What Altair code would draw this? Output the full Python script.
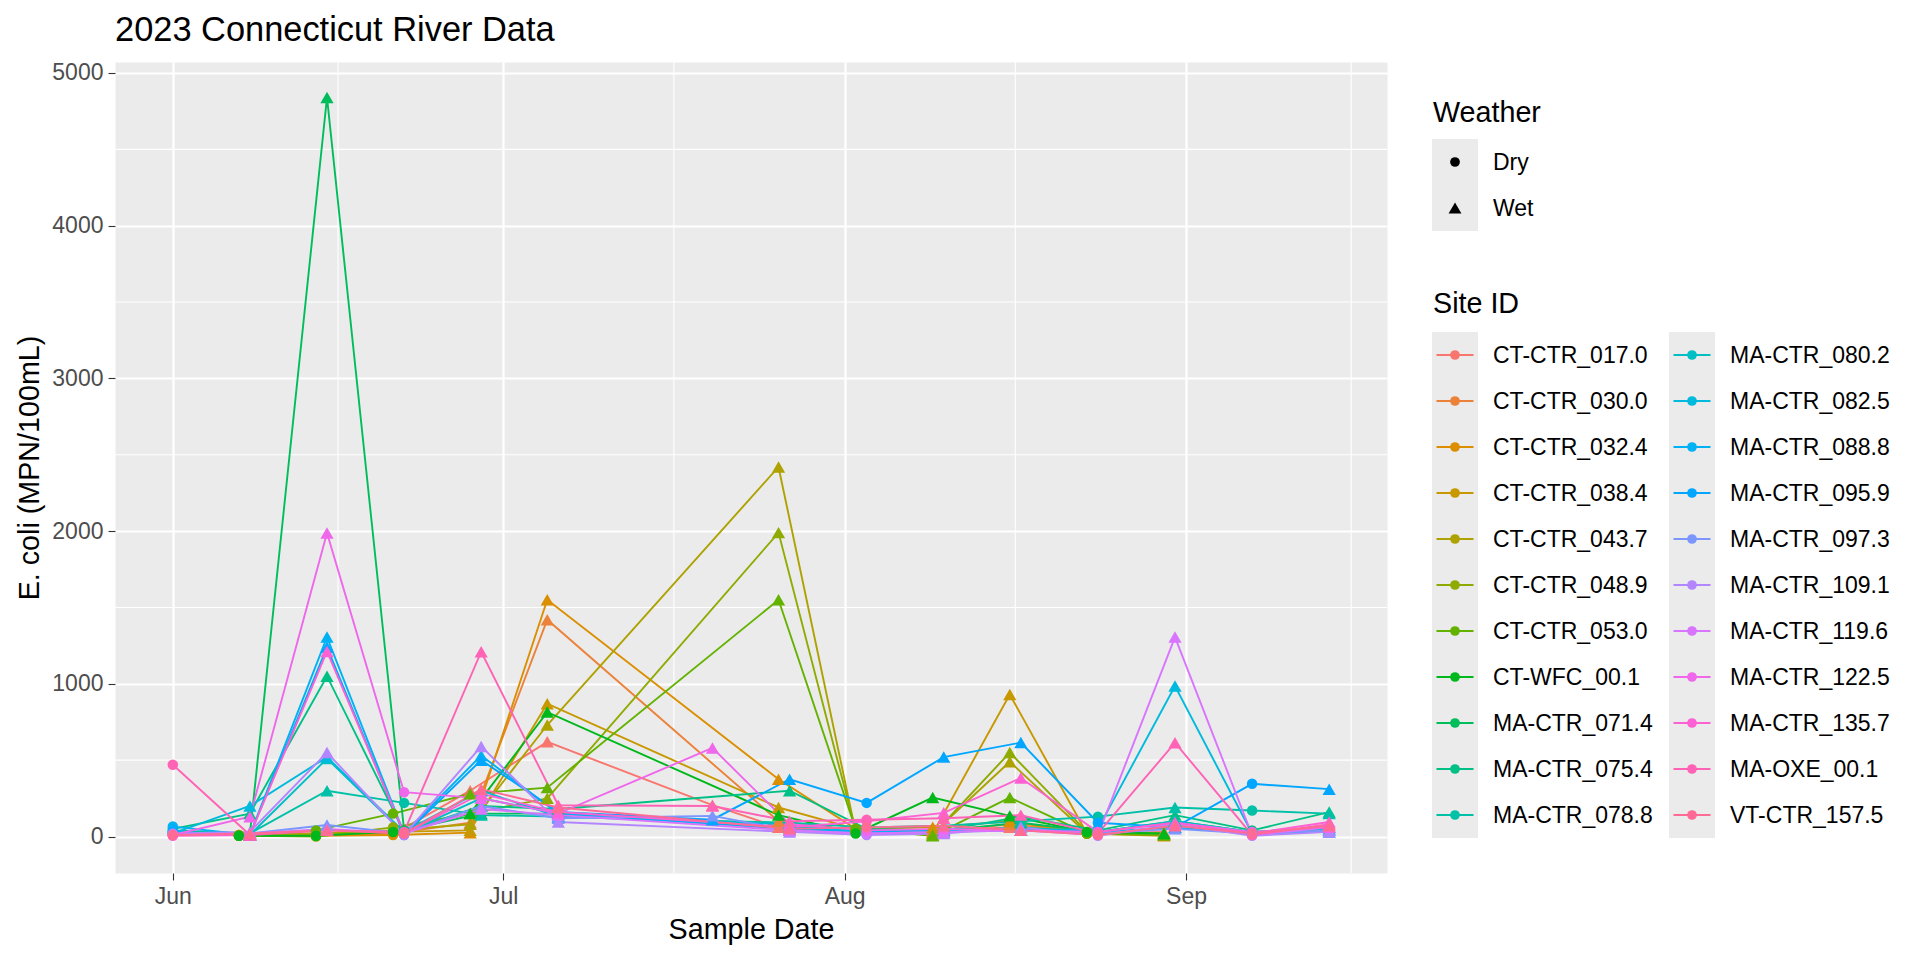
import math
import pandas as pd
import altair as alt

FONT = "Liberation Sans, Arial, sans-serif"

# ---------------- data ----------------
SITE_IDS = ["CT-CTR_017.0", "CT-CTR_030.0", "CT-CTR_032.4", "CT-CTR_038.4", "CT-CTR_043.7",
            "CT-CTR_048.9", "CT-CTR_053.0", "CT-WFC_00.1", "MA-CTR_071.4", "MA-CTR_075.4",
            "MA-CTR_078.8", "MA-CTR_080.2", "MA-CTR_082.5", "MA-CTR_088.8", "MA-CTR_095.9",
            "MA-CTR_097.3", "MA-CTR_109.1", "MA-CTR_119.6", "MA-CTR_122.5", "MA-CTR_135.7",
            "MA-OXE_00.1", "VT-CTR_157.5"]

CT_DATES = ["2023-06-07", "2023-06-14", "2023-06-21", "2023-06-28", "2023-07-05", "2023-07-20",
            "2023-07-26", "2023-08-02", "2023-08-09", "2023-08-16", "2023-08-23", "2023-08-30"]
CT_WEATHER = ["Dry", "Dry", "Dry", "Wet", "Wet", "Wet", "Wet", "Dry", "Wet", "Wet", "Dry", "Wet"]

MA_DATES = ["2023-06-01", "2023-06-08", "2023-06-15", "2023-06-22", "2023-06-29", "2023-07-06",
            "2023-07-20", "2023-07-27", "2023-08-03", "2023-08-10", "2023-08-17", "2023-08-24",
            "2023-08-31", "2023-09-07", "2023-09-14"]
MA_WEATHER = ["Dry", "Wet", "Wet", "Dry", "Wet", "Wet", "Wet", "Wet", "Dry", "Wet", "Wet", "Dry",
              "Wet", "Dry", "Wet"]

# E. coli (MPN/100mL) per site, aligned with the date lists above (None = not sampled)
CT_CTR_017_0 = [10, 20, 15, 300, 620, 205, 60, 30, 40, 60, 20, 30]
CT_CTR_030_0 = [5, 10, 20, 90, 1420, None, 100, 40, 30, 80, 30, 10]
CT_CTR_032_4 = [5, 5, 10, 25, 1550, None, 375, 50, 60, 100, 20, 5]
CT_CTR_038_4 = [10, 10, 30, 40, 870, None, 190, 50, 20, 930, 20, 20]
CT_CTR_043_7 = [10, 20, 40, 80, 730, None, 2420, 30, 20, 490, 20, 15]
CT_CTR_048_9 = [5, 0, 60, 150, 250, None, 1990, 40, 10, 550, 30, 20]
CT_CTR_053_0 = [5, 40, 150, 280, 320, None, 1550, 50, 5, 255, 20, 10]
CT_WFC_00_1 = [5, 5, 30, 150, 815, None, 140, 20, 255, 135, 30, 20]

MA_CTR_071_4 = [20, 15, 4840, 40, 150, 150, None, 60, 30, 40, 90, 30, 100, 30, 60]
MA_CTR_075_4 = [50, 150, 1050, 30, 200, 180, None, 300, 50, 40, 130, 40, 140, 40, 160]
MA_CTR_078_8 = [40, 20, 300, 220, 140, 130, None, 90, 60, 70, 100, 130, 190, 170, 150]
MA_CTR_080_2 = [30, 10, 510, 20, 250, 150, None, 60, 40, 30, 60, 30, 100, 30, 50]
MA_CTR_082_5 = [20, 200, 520, 30, 300, 130, None, 80, 20, 50, 40, 50, 985, 20, 40]
MA_CTR_088_8 = [65, 10, 1306, 20, 530, 150, None, 50, 30, 40, 40, 30, 60, 20, 30]
MA_CTR_095_9 = [30, 10, 1240, 10, 500, 160, 110, 375, 220, 520, 615, 90, 60, 345, 310]
MA_CTR_097_3 = [10, 20, 75, 20, 200, 120, 135, 40, 20, 30, 40, 20, 50, 20, 40]
MA_CTR_109_1 = [20, 30, 550, 10, 590, 95, None, 30, 10, 20, 60, 5, 80, 5, 30]
MA_CTR_119_6 = [10, 20, 50, 20, 180, 140, None, 40, 20, 30, 40, 10, 1306, 10, 60]
MA_CTR_122_5 = [10, 130, 1987, 290, 250, 150, 580, 80, 40, 50, 40, 30, 90, 30, 60]
MA_CTR_135_7 = [5, 10, 1212, 20, 280, 160, None, 60, 100, 155, 383, 30, 90, 20, 95]
MA_OXE_00_1 = [470, 10, 40, 30, 1210, 205, 200, 100, 110, 120, 140, 20, 614, 10, 80]
VT_CTR_157_5 = [10, 20, 40, 20, 310, 190, None, 50, 60, 70, 40, 10, 70, 20, 70]

SERIES = [CT_CTR_017_0, CT_CTR_030_0, CT_CTR_032_4, CT_CTR_038_4, CT_CTR_043_7, CT_CTR_048_9,
          CT_CTR_053_0, CT_WFC_00_1, MA_CTR_071_4, MA_CTR_075_4, MA_CTR_078_8, MA_CTR_080_2,
          MA_CTR_082_5, MA_CTR_088_8, MA_CTR_095_9, MA_CTR_097_3, MA_CTR_109_1, MA_CTR_119_6,
          MA_CTR_122_5, MA_CTR_135_7, MA_OXE_00_1, VT_CTR_157_5]

Y_TICKS = [0, 1000, 2000, 3000, 4000, 5000]
Y_MINOR = [500, 1500, 2500, 3500, 4500]
X_MINOR = ["2023-06-16T00:00:00Z", "2023-07-16T12:00:00Z", "2023-08-16T12:00:00Z",
           "2023-09-16T00:00:00Z"]
WEATHER_LABELS = ["Dry", "Wet"]

rows = []
for site, vals in zip(SITE_IDS, SERIES):
    if site.startswith("CT"):
        dates, weather = CT_DATES, CT_WEATHER
    else:
        dates, weather = MA_DATES, MA_WEATHER
    for d, w, v in zip(dates, weather, vals):
        if v is not None:
            rows.append({"site": site, "date": d, "weather": w, "ecoli": v})
df = pd.DataFrame(rows)


# ---------------- ggplot hue palette ----------------
def hcl_hex(h, c=100.0, l=65.0):
    hr = math.radians(h)
    U, V = c * math.cos(hr), c * math.sin(hr)
    Y = 100.0 * ((l + 16.0) / 116.0) ** 3
    un, vn = 0.1978398, 0.4683363
    u = U / (13.0 * l) + un
    v = V / (13.0 * l) + vn
    X = 9.0 * Y * u / (4.0 * v)
    Z = -X / 3.0 - 5.0 * Y + 3.0 * Y / v
    X, Y, Z = X / 100.0, Y / 100.0, Z / 100.0
    r = 3.240479 * X - 1.537150 * Y - 0.498535 * Z
    g = -0.969256 * X + 1.875992 * Y + 0.041556 * Z
    b = 0.055648 * X - 0.204043 * Y + 1.057311 * Z

    def gam(t):
        t = 1.055 * t ** (1 / 2.4) - 0.055 if t > 0.00304 else 12.92 * t
        return int(round(255 * min(1.0, max(0.0, t))))
    return "#{:02X}{:02X}{:02X}".format(gam(r), gam(g), gam(b))


N = len(SITE_IDS)
PALETTE = [hcl_hex(15 + i * 360.0 / N) for i in range(N)]

# ---------------- main plot ----------------
W, H = 1272, 811
x_scale = alt.Scale(type="utc", nice=False,
                    domain=[alt.DateTime(year=2023, month=5, date=26, hours=18, utc=True),
                            alt.DateTime(year=2023, month=9, date=19, hours=6, utc=True)])
y_scale = alt.Scale(domain=[-239, 5072], nice=False, zero=False)
x_vals = [alt.DateTime(year=2023, month=m, date=1, utc=True) for m in (6, 7, 8, 9)]

x_axis = alt.Axis(values=x_vals, format="%b", title="Sample Date", grid=True)
y_axis = alt.Axis(values=Y_TICKS, format="d", title="E. coli (MPN/100mL)", grid=True)

color = alt.Color("site:N", scale=alt.Scale(domain=SITE_IDS, range=PALETTE), legend=None)

minor_y = alt.Chart(pd.DataFrame({"v": Y_MINOR})).mark_rule(color="white", strokeWidth=1.1).encode(
    y=alt.Y("v:Q", scale=y_scale, axis=y_axis, title="E. coli (MPN/100mL)"))
minor_x = alt.Chart(pd.DataFrame({"d": X_MINOR})).mark_rule(color="white", strokeWidth=1.1).encode(
    x=alt.X("d:T", scale=x_scale, axis=x_axis, title="Sample Date"))

lines = alt.Chart(df).mark_line(strokeWidth=1.9).encode(
    x=alt.X("date:T", scale=x_scale, axis=x_axis, title="Sample Date"),
    y=alt.Y("ecoli:Q", scale=y_scale, axis=y_axis, title="E. coli (MPN/100mL)"),
    color=color,
)
points = alt.Chart(df).mark_point(filled=True, opacity=1).encode(
    x=alt.X("date:T", scale=x_scale, axis=x_axis, title="Sample Date"),
    y=alt.Y("ecoli:Q", scale=y_scale, axis=y_axis, title="E. coli (MPN/100mL)"),
    color=color,
    shape=alt.Shape("weather:N", scale=alt.Scale(domain=WEATHER_LABELS,
                                                  range=["circle", "triangle-up"]), legend=None),
    size=alt.Size("weather:N", scale=alt.Scale(domain=WEATHER_LABELS, range=[110, 175]),
                  legend=None),
)
main = alt.layer(minor_y, minor_x, lines, points)

# ---------------- hand-drawn ggplot-style legend (guide layout) ----------------
KEY, ROW, COL_STEP = 46, 46, 237
LX0 = W + 45                  # left edge of legend keys
WEATHER_TOP, SITE_TOP = 77, 270
ROWS_PER_COL = 11

rect_df = pd.DataFrame({
    "x": [LX0, LX0, LX0 + COL_STEP],
    "x2": [LX0 + KEY, LX0 + KEY, LX0 + COL_STEP + KEY],
    "y": [WEATHER_TOP, SITE_TOP, SITE_TOP],
    "y2": [WEATHER_TOP + 2 * ROW, SITE_TOP + ROWS_PER_COL * ROW, SITE_TOP + ROWS_PER_COL * ROW],
})
site_leg = []
for i, (s, c) in enumerate(zip(SITE_IDS, PALETTE)):
    col, row = divmod(i, ROWS_PER_COL)
    cx = LX0 + col * COL_STEP + KEY / 2
    cy = SITE_TOP + row * ROW + ROW / 2
    site_leg.append({"label": s, "col": c, "cx": cx, "cy": cy, "x1": cx - 18.5, "x2": cx + 18.5,
                     "tx": LX0 + col * COL_STEP + 61})
site_leg = pd.DataFrame(site_leg)
wx_leg = pd.DataFrame({"label": WEATHER_LABELS, "shape": ["circle", "triangle-up"],
                       "size": [95, 165],
                       "cx": [LX0 + KEY / 2] * 2,
                       "cy": [WEATHER_TOP + ROW / 2, WEATHER_TOP + 1.5 * ROW],
                       "tx": [LX0 + 61] * 2})
title_leg = pd.DataFrame({"label": ["Weather", "Site ID"], "tx": [LX0 + 1, LX0 + 1], "ty": [60, 251]})

leg_rect = alt.Chart(rect_df).mark_rect(color="#EBEBEB").encode(
    x=alt.X("x:Q", scale=None, axis=None), x2="x2:Q",
    y=alt.Y("y:Q", scale=None, axis=None), y2="y2:Q")
leg_lines = alt.Chart(site_leg).mark_rule(strokeWidth=2).encode(
    x=alt.X("x1:Q", scale=None, axis=None), x2="x2:Q",
    y=alt.Y("cy:Q", scale=None, axis=None),
    color=alt.Color("col:N", scale=None))
leg_dots = alt.Chart(site_leg).mark_circle(size=95, opacity=1).encode(
    x=alt.X("cx:Q", scale=None, axis=None), y=alt.Y("cy:Q", scale=None, axis=None),
    color=alt.Color("col:N", scale=None))
leg_shapes = alt.Chart(wx_leg).mark_point(filled=True, opacity=1, color="black").encode(
    x=alt.X("cx:Q", scale=None, axis=None), y=alt.Y("cy:Q", scale=None, axis=None),
    shape=alt.Shape("shape:N", scale=None), size=alt.Size("size:Q", scale=None))
leg_text_sites = alt.Chart(site_leg).mark_text(align="left", baseline="middle", fontSize=23,
                                               font=FONT, color="black", dy=1).encode(
    x=alt.X("tx:Q", scale=None, axis=None), y=alt.Y("cy:Q", scale=None, axis=None), text="label:N")
leg_text_wx = alt.Chart(wx_leg).mark_text(align="left", baseline="middle", fontSize=23,
                                          font=FONT, color="black", dy=1).encode(
    x=alt.X("tx:Q", scale=None, axis=None), y=alt.Y("cy:Q", scale=None, axis=None), text="label:N")
leg_titles = alt.Chart(title_leg).mark_text(align="left", baseline="alphabetic", fontSize=28.7,
                                            font=FONT, color="black").encode(
    x=alt.X("tx:Q", scale=None, axis=None), y=alt.Y("ty:Q", scale=None, axis=None), text="label:N")

chart = alt.layer(
    main, leg_rect, leg_lines, leg_dots, leg_shapes, leg_text_sites, leg_text_wx, leg_titles
).resolve_scale(
    x="independent", y="independent", color="independent", shape="independent", size="independent"
).properties(
    width=W, height=H,
    background="white",
    title=alt.Title("2023 Connecticut River Data", anchor="start", frame="group", fontSize=34.4,
                    font=FONT, fontWeight="normal", color="black", offset=13),
    padding={"left": 107, "top": 54, "right": 520, "bottom": 80},
    autosize=alt.AutoSizeParams(type="none"),
).configure_view(
    fill="#EBEBEB", stroke="transparent"
).configure_axis(
    labelFont=FONT, labelFontSize=23, labelColor="#4D4D4D",
    tickColor="#333333", tickSize=7, tickWidth=1.1, labelPadding=5,
    domain=False, gridColor="white", gridWidth=2.2,
    titleFont=FONT, titleFontSize=28.7, titleFontWeight="normal", titleColor="black",
    titlePadding=7,
)

chart.save("out.html", embed_options={"renderer": "svg", "actions": False})
